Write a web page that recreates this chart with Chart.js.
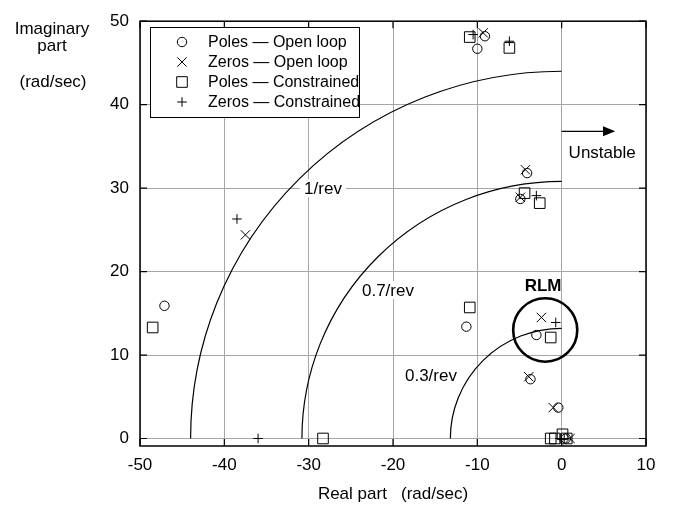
<!DOCTYPE html>
<html>
<head>
<meta charset="utf-8">
<script src="https://cdn.jsdelivr.net/npm/chart.js"></script>
<style>
html, body { margin: 0; padding: 0; background: #fff; }
canvas { display: block; }
</style>
</head>
<body>
<canvas id="grafico" width="677" height="508"></canvas>
<script>
// Ejes
const ticksX = [-50, -40, -30, -20, -10, 0, 10];
const ticksY = [0, 10, 20, 30, 40, 50];

// Polos y ceros (parte real, parte imaginaria) en rad/sec
const polosAbierto = [
    {x: -47.1, y: 15.9}, {x: -11.3, y: 13.4}, {x: -3.0, y: 12.4}, {x: -3.7, y: 7.1},
    {x: -0.4, y: 3.7}, {x: -4.1, y: 31.8}, {x: -4.9, y: 28.7}, {x: -10.0, y: 46.7},
    {x: -9.1, y: 48.2}, {x: 0.5, y: 0}
];
const cerosAbierto = [
    {x: -37.5, y: 24.4}, {x: -2.4, y: 14.5}, {x: -3.9, y: 7.4}, {x: -1.0, y: 3.7},
    {x: -4.3, y: 32.2}, {x: -4.9, y: 28.9}, {x: -9.3, y: 48.6}, {x: 1.0, y: 0}
];
const polosRestringido = [
    {x: -48.5, y: 13.3}, {x: -28.3, y: 0}, {x: -10.9, y: 15.7}, {x: -1.3, y: 12.1},
    {x: -4.4, y: 29.4}, {x: -2.6, y: 28.2}, {x: -10.9, y: 48.1}, {x: -6.2, y: 46.8},
    {x: -1.3, y: 0}, {x: -0.8, y: 0}, {x: 0.1, y: 0.5}, {x: 0.6, y: 0}
];
const cerosRestringido = [
    {x: -38.5, y: 26.3}, {x: -36.0, y: 0}, {x: -0.7, y: 13.9}, {x: -3.0, y: 29.1},
    {x: -10.5, y: 48.4}, {x: -6.2, y: 47.6}, {x: -0.2, y: 0}, {x: 0.3, y: 0}
];

// Circulos de frecuencia constante (rad/sec) y sus etiquetas
const radiosRev = [44, 30.8, 13.2];
const etiquetasRev = ['1/rev', '0.7/rev', '0.3/rev'];

const nombresSeries = ['Poles \u2014 Open loop', 'Zeros \u2014 Open loop', 'Poles \u2014 Constrained', 'Zeros \u2014 Constrained'];

const FUENTE = "'Liberation Sans', Arial, sans-serif";

const series = [
    {data: polosAbierto, pointStyle: 'circle', pointRadius: 4.7},
    {data: cerosAbierto, pointStyle: 'crossRot', pointRadius: 6.6},
    {data: polosRestringido, pointStyle: 'rect', pointRadius: 7.5},
    {data: cerosRestringido, pointStyle: 'cross', pointRadius: 4.8}
];

const anotaciones = {
    id: 'anotaciones',
    beforeDatasetsDraw(chart) {
        const ctx = chart.ctx;
        const sx = chart.scales.x, sy = chart.scales.y;
        const area = chart.chartArea;
        const px = v => sx.getPixelForValue(v);
        const py = v => sy.getPixelForValue(v);
        const kx = px(1) - px(0), ky = py(0) - py(1);
        ctx.save();

        // etiquetas con fondo blanco (cortan la grilla)
        ctx.font = '17px ' + FUENTE;
        ctx.textAlign = 'center';
        ctx.textBaseline = 'middle';
        const posEtq = [[-28.3, 30], [-20.6, 17.8], [-15.5, 7.6]];
        etiquetasRev.forEach((t, i) => {
            const x = px(posEtq[i][0]), y = py(posEtq[i][1]);
            const w = ctx.measureText(t).width;
            ctx.fillStyle = '#fff';
            ctx.fillRect(x - w / 2 - 4, y - 9, w + 8, 18);
            ctx.fillStyle = '#000';
            ctx.fillText(t, x, y + 1);
        });

        // arcos
        ctx.strokeStyle = '#000';
        ctx.lineWidth = 1.2;
        radiosRev.forEach(r => {
            ctx.beginPath();
            ctx.ellipse(px(0), py(0), r * kx, r * ky, 0, Math.PI, 1.5 * Math.PI);
            ctx.stroke();
        });

        // Unstable
        ctx.lineWidth = 1.3;
        ctx.beginPath();
        ctx.moveTo(px(0), py(36.8));
        ctx.lineTo(px(5.2), py(36.8));
        ctx.stroke();
        ctx.beginPath();
        ctx.moveTo(px(6.35), py(36.8));
        ctx.lineTo(px(4.9), py(36.8) - 5);
        ctx.lineTo(px(4.9), py(36.8) + 5);
        ctx.closePath();
        ctx.fillStyle = '#000';
        ctx.fill();
        ctx.fillText('Unstable', px(4.8), py(34.3) + 1);

        // RLM
        ctx.lineWidth = 2.6;
        ctx.beginPath();
        ctx.ellipse(px(-1.95), py(13.0), 3.8 * kx, 3.8 * ky, 0, 0, 2 * Math.PI);
        ctx.stroke();
        ctx.font = 'bold 17px ' + FUENTE;
        ctx.fillText('RLM', px(-2.2), py(18.4) + 1);

        // marco y marcas hacia dentro
        ctx.lineWidth = 1.5;
        ctx.strokeRect(area.left, area.top, area.right - area.left, area.bottom - area.top);
        ctx.lineWidth = 1.2;
        ctx.beginPath();
        ticksX.forEach(v => {
            ctx.moveTo(px(v), area.bottom); ctx.lineTo(px(v), area.bottom - 7);
            ctx.moveTo(px(v), area.top); ctx.lineTo(px(v), area.top + 7);
        });
        ticksY.forEach(v => {
            ctx.moveTo(area.left, py(v)); ctx.lineTo(area.left + 7, py(v));
            ctx.moveTo(area.right, py(v)); ctx.lineTo(area.right - 7, py(v));
        });
        ctx.stroke();

        // titulos de ejes
        ctx.font = '17px ' + FUENTE;
        ctx.fillText('Imaginary', 52, 29);
        ctx.fillText('part', 52, 46);
        ctx.fillText('(rad/sec)', 53, 82);
        ctx.fillText('Real part   (rad/sec)', (area.left + area.right) / 2, 494);
        ctx.restore();
    },
    afterDatasetsDraw(chart) {
        const ctx = chart.ctx;
        ctx.save();
        ctx.fillStyle = '#fff';
        ctx.fillRect(150, 27, 209, 90);
        ctx.strokeStyle = '#000';
        ctx.lineWidth = 1;
        ctx.strokeRect(150.5, 27.5, 209, 90);
        ctx.font = '16px ' + FUENTE;
        ctx.textAlign = 'left';
        ctx.textBaseline = 'middle';
        series.forEach((s, i) => {
            const y = 42 + i * 20;
            ctx.strokeStyle = '#000';
            ctx.fillStyle = 'rgba(0,0,0,0)';
            ctx.lineWidth = 1;
            Chart.helpers.drawPoint(ctx, {pointStyle: s.pointStyle, radius: s.pointRadius, rotation: 0, borderWidth: 1}, 182, y);
            ctx.fillStyle = '#000';
            ctx.fillText(nombresSeries[i], 208, y + 1);
        });
        ctx.restore();
    }
};

new Chart(document.getElementById('grafico'), {
    type: 'scatter',
    data: {
        datasets: series.map((s, i) => ({
            label: nombresSeries[i],
            data: s.data,
            pointStyle: s.pointStyle,
            pointRadius: s.pointRadius,
            pointBorderWidth: 1,
            borderColor: '#000',
            backgroundColor: 'rgba(0,0,0,0)',
            showLine: false,
            clip: false
        }))
    },
    options: {
        responsive: false,
        animation: false,
        layout: { padding: { top: 14, right: 31, left: 0, bottom: 0 } },
        plugins: { legend: { display: false }, tooltip: { enabled: false } },
        scales: {
            x: {
                type: 'linear', min: -50, max: 10,
                afterBuildTicks: s => { s.ticks = ticksX.map(v => ({value: v})); },
                afterFit: s => { s.height = 62; },
                grid: { color: '#a6a6a6', lineWidth: 1, drawTicks: false },
                border: { display: false },
                ticks: { color: '#000', padding: 9, font: { size: 17, family: FUENTE } }
            },
            y: {
                type: 'linear', min: -0.9, max: 50,
                afterBuildTicks: s => { s.ticks = ticksY.map(v => ({value: v})); },
                afterFit: s => { s.width = 140; },
                grid: { color: '#a6a6a6', lineWidth: 1, drawTicks: false },
                border: { display: false },
                ticks: { color: '#000', padding: 11, font: { size: 17, family: FUENTE } }
            }
        }
    },
    plugins: [anotaciones]
});
</script>
</body>
</html>
